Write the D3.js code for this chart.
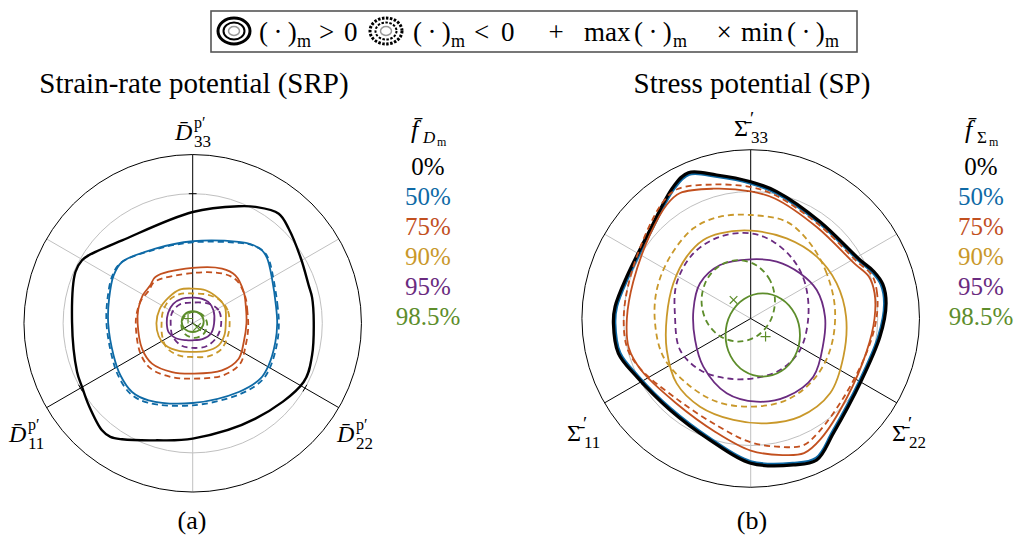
<!DOCTYPE html>
<html><head><meta charset="utf-8">
<script src="https://cdn.jsdelivr.net/npm/d3@7"></script>
<style>
body{margin:0;background:#fff}
svg{display:block}
text{font-family:"Liberation Serif","Times New Roman",serif}
</style>
</head><body>
<svg id="c" width="1015" height="540"></svg>
<script>
// ---------------- DATA ----------------
// Curves are traced points [x, y] in the deviatoric plane, normalised so that the grey circle has radius 1
const levels = ["0%","50%","75%","90%","95%","98.5%"];
const levelColors = ["#000000","#0e6aa6","#c2501f","#c9982a","#6a2b80","#5d8d2b"];

// Strain-rate potential (SRP)
const srp0 = [[0.934,0.01],[0.921,0.2],[0.895,0.293],[0.835,0.5],[0.741,0.73],[0.664,0.846],[0.484,0.898],[0.355,0.903],[0,0.859],[-0.545,0.64],[-0.802,0.525],[-0.854,0.486],[-0.905,0.396],[-0.931,0.01],[-0.892,-0.376],[-0.854,-0.491],[-0.802,-0.633],[-0.7,-0.826],[-0.635,-0.877],[-0.545,-0.895],[-0.288,-0.903],[0,-0.89],[0.484,-0.736],[0.856,-0.453],[0.921,-0.247]];
const srp50Pos = [[0.652,0],[0.643,0.13],[0.612,0.345],[0.575,0.5],[0.535,0.563],[0.45,0.61],[0.355,0.628],[0,0.633],[-0.288,0.576],[-0.545,0.473],[-0.61,0.37],[-0.645,0.19],[-0.652,0],[-0.61,-0.25],[-0.558,-0.401],[-0.468,-0.53],[-0.34,-0.594],[0,-0.615],[0.355,-0.53],[0.522,-0.427],[0.586,-0.324],[0.638,-0.144]];
const srp50Neg = [[0.665,-0.005],[0.656,0.125],[0.624,0.338],[0.587,0.493],[0.546,0.556],[0.459,0.603],[0.362,0.62],[0,0.625],[-0.294,0.568],[-0.556,0.466],[-0.622,0.362],[-0.658,0.183],[-0.665,-0.005],[-0.622,-0.262],[-0.569,-0.416],[-0.477,-0.547],[-0.347,-0.612],[0,-0.633],[0.362,-0.548],[0.532,-0.443],[0.598,-0.338],[0.651,-0.155]];
const srp75Pos = [[0.415,0],[0.41,0.13],[0.394,0.242],[0.329,0.37],[0.226,0.422],[0,0.427],[-0.288,0.358],[-0.327,0.293],[-0.386,0.216],[-0.42,0.11],[-0.425,0],[-0.391,-0.195],[-0.314,-0.311],[-0.159,-0.376],[0,-0.388],[0.226,-0.363],[0.355,-0.273],[0.394,-0.144]];
const srp75Neg = [[0.428,-0.039],[0.422,0.091],[0.406,0.203],[0.339,0.331],[0.233,0.383],[0,0.388],[-0.297,0.319],[-0.337,0.254],[-0.398,0.177],[-0.433,0.071],[-0.438,-0.039],[-0.403,-0.234],[-0.323,-0.35],[-0.164,-0.415],[0,-0.427],[0.233,-0.402],[0.366,-0.312],[0.406,-0.183]];
const srp90Pos = [[0.255,0],[0.25,0.12],[0.2,0.19],[0.1,0.255],[0,0.268],[-0.1,0.26],[-0.185,0.2],[-0.255,0.11],[-0.28,0],[-0.262,-0.1],[-0.211,-0.17],[-0.1,-0.215],[0,-0.221],[0.1,-0.215],[0.2,-0.17],[0.245,-0.09]];
const srp90Neg = [[0.285,0],[0.27,0.1],[0.22,0.17],[0.12,0.22],[0,0.23],[-0.1,0.225],[-0.18,0.18],[-0.23,0.09],[-0.24,0],[-0.235,-0.1],[-0.2,-0.19],[-0.1,-0.25],[0,-0.26],[0.12,-0.255],[0.22,-0.2],[0.27,-0.1]];
const srp95Pos = [[0.165,0],[0.16,0.1],[0.12,0.165],[0.05,0.195],[0,0.198],[-0.08,0.19],[-0.15,0.15],[-0.19,0.08],[-0.2,0],[-0.185,-0.07],[-0.13,-0.115],[-0.05,-0.13],[0,-0.131],[0.08,-0.12],[0.14,-0.08]];
const srp95Neg = [[0.22,0],[0.2,0.1],[0.13,0.15],[0,0.16],[-0.1,0.145],[-0.16,0.08],[-0.17,0],[-0.155,-0.1],[-0.09,-0.17],[0,-0.19],[0.11,-0.175],[0.19,-0.1]];
const srp985Pos = [[0.085,0.013],[0.06,0.07],[0,0.093],[-0.06,0.07],[-0.085,0.013],[-0.06,-0.045],[0,-0.067],[0.06,-0.045]];
const srp985Neg = [[0.112,-0.012],[0.083,0.06],[0.012,0.088],[-0.059,0.06],[-0.088,-0.012],[-0.059,-0.083],[0.012,-0.112],[0.083,-0.083]];

// Stress potential (SP)
const sp0 = [[1.066,0.119],[1.04,0.27],[0.97,0.37],[0.861,0.461],[0.546,0.762],[0.205,0.999],[0,1.077],[-0.268,1.13],[-0.491,1.148],[-0.609,1.038],[-0.793,0.697],[-0.976,0.329],[-1.068,0.093],[-1.081,-0.038],[-1.042,-0.274],[-0.898,-0.458],[-0.635,-0.72],[-0.32,-0.957],[0,-1.14],[0.336,-1.153],[0.52,-1.114],[0.651,-0.904],[0.861,-0.511],[1.018,-0.143]];
const sp50Pos = [[1.051,0.117],[1.025,0.266],[0.956,0.365],[0.849,0.455],[0.538,0.751],[0.202,0.985],[0,1.062],[-0.264,1.114],[-0.484,1.132],[-0.6,1.023],[-0.782,0.687],[-0.962,0.324],[-1.053,0.092],[-1.066,-0.037],[-1.027,-0.27],[-0.885,-0.452],[-0.626,-0.71],[-0.316,-0.944],[0,-1.124],[0.331,-1.137],[0.513,-1.098],[0.642,-0.891],[0.849,-0.504],[1.004,-0.141]];
const sp50Neg = [[1.055,0.118],[1.029,0.267],[0.96,0.366],[0.852,0.456],[0.541,0.754],[0.203,0.989],[0,1.066],[-0.265,1.119],[-0.486,1.137],[-0.603,1.028],[-0.785,0.69],[-0.966,0.326],[-1.057,0.092],[-1.07,-0.038],[-1.032,-0.271],[-0.889,-0.453],[-0.629,-0.713],[-0.317,-0.947],[0,-1.135],[0.333,-1.147],[0.515,-1.108],[0.644,-0.895],[0.852,-0.506],[1.008,-0.142]];
const sp75Pos = [[0.975,0],[0.975,0.2],[0.93,0.33],[0.82,0.43],[0.52,0.72],[0.19,0.945],[0,1.001],[-0.294,1.022],[-0.556,0.988],[-0.661,0.896],[-0.793,0.66],[-0.924,0.293],[-0.975,0],[-0.96,-0.23],[-0.86,-0.41],[-0.59,-0.665],[-0.275,-0.895],[0,-1.04],[0.25,-1.075],[0.42,-1.06],[0.55,-0.95],[0.756,-0.626],[0.913,-0.259]];
const sp75Neg = [[0.99,0],[0.995,0.2],[0.955,0.34],[0.84,0.445],[0.535,0.74],[0.195,0.97],[0,1.035],[-0.3,1.055],[-0.575,1.02],[-0.685,0.925],[-0.82,0.68],[-0.955,0.3],[-1.0,0],[-0.97,-0.24],[-0.865,-0.4],[-0.58,-0.635],[-0.262,-0.845],[0,-0.975],[0.225,-1.01],[0.41,-1.0],[0.53,-0.9],[0.745,-0.6],[0.92,-0.25]];
const sp90Pos = [[0.751,0.014],[0.677,0.277],[0.52,0.487],[0.283,0.631],[0,0.692],[-0.241,0.671],[-0.373,0.618],[-0.504,0.487],[-0.609,0.277],[-0.661,0.014],[-0.661,-0.248],[-0.583,-0.511],[-0.399,-0.694],[-0.136,-0.799],[0.126,-0.825],[0.388,-0.773],[0.625,-0.589],[0.73,-0.3]];
const sp90Neg = [[0.664,0.067],[0.598,0.356],[0.467,0.592],[0.283,0.762],[0,0.815],[-0.241,0.802],[-0.451,0.71],[-0.635,0.487],[-0.74,0.224],[-0.753,-0.038],[-0.688,-0.301],[-0.504,-0.511],[-0.268,-0.655],[0.021,-0.694],[0.283,-0.642],[0.493,-0.484],[0.625,-0.248]];
const sp95Pos = [[0.585,0.014],[0.52,0.224],[0.388,0.356],[0.205,0.448],[0,0.466],[-0.241,0.421],[-0.399,0.277],[-0.451,0.067],[-0.438,-0.169],[-0.373,-0.379],[-0.189,-0.589],[0.047,-0.655],[0.283,-0.615],[0.493,-0.458],[0.572,-0.196]];
const sp95Neg = [[0.454,0.014],[0.428,0.277],[0.336,0.461],[0.178,0.605],[0,0.671],[-0.241,0.644],[-0.451,0.513],[-0.583,0.277],[-0.596,0.014],[-0.556,-0.248],[-0.399,-0.406],[-0.189,-0.471],[0.021,-0.471],[0.231,-0.406],[0.388,-0.248]];
const sp985Pos = [[0.388,-0.13],[0.349,0.034],[0.242,0.154],[0.095,0.198],[-0.052,0.154],[-0.159,0.034],[-0.198,-0.13],[-0.159,-0.294],[-0.052,-0.414],[0.095,-0.458],[0.242,-0.414],[0.349,-0.294]];
const sp985Neg = [[0.191,0.139],[0.153,0.3],[0.047,0.417],[-0.098,0.46],[-0.242,0.417],[-0.348,0.3],[-0.387,0.139],[-0.348,-0.022],[-0.242,-0.139],[-0.098,-0.182],[0.047,-0.139],[0.153,-0.022]];

// max (+) / min (x) markers
const srpMax = [[-0.036,0.037]];
const srpMin = [[0.033,-0.029]];
const spMax = [[0.117,-0.142]];
const spMin = [[-0.135,0.146]];

// axis directions (deg, counter-clockwise from +x)
const mainAxes = [90,210,330];
const auxAxes = [270,30,150];

// ---------------- DRAWING ----------------
const svg = d3.select("#c");
const FONT = '"Liberation Serif","Times New Roman",serif';
const deg = Math.PI/180;

function drawPlot(cfg) {
  const x = d3.scaleLinear().domain([-1,1]).range([-cfg.unit,cfg.unit]);
  const y = d3.scaleLinear().domain([-1,1]).range([cfg.unit,-cfg.unit]);
  const R = v => x(v) - x(0);
  const g = svg.append("g").attr("transform",`translate(${cfg.cx},${cfg.cy})`);
  g.append("circle").attr("r",R(1)).attr("fill","none").attr("stroke","#c0c0c0").attr("stroke-width",1);
  auxAxes.forEach(a=>{
    g.append("line").attr("x1",x(0)).attr("y1",y(0))
      .attr("x2",x(cfg.rMax*Math.cos(a*deg))).attr("y2",y(cfg.rMax*Math.sin(a*deg)))
      .attr("stroke","#c0c0c0").attr("stroke-width",1);
  });
  mainAxes.forEach(a=>{
    const c = Math.cos(a*deg), s = Math.sin(a*deg);
    g.append("line").attr("x1",x(0)).attr("y1",y(0))
      .attr("x2",x(cfg.rMax*c)).attr("y2",y(cfg.rMax*s))
      .attr("stroke","#000").attr("stroke-width",1);
    const t = 0.03;
    g.append("line").attr("x1",x(c - t*s)).attr("y1",y(s + t*c)).attr("x2",x(c + t*s)).attr("y2",y(s - t*c))
      .attr("stroke","#000").attr("stroke-width",1);
  });
  g.append("circle").attr("r",R(cfg.rMax)).attr("fill","none").attr("stroke","#000").attr("stroke-width",1);

  const line = d3.line().x(d=>x(d[0])).y(d=>y(d[1])).curve(d3.curveCatmullRomClosed.alpha(0.5));
  cfg.series.forEach(s=>{
    g.append("path").attr("d",line(s.values)).attr("fill","none")
      .attr("stroke",levelColors[s.level]).attr("stroke-width",s.w)
      .attr("stroke-dasharray",s.neg?"6,4":null).attr("stroke-linejoin","round");
  });
  const mk = (list, type) => list.forEach(([px,py])=>{
    const X = x(px), Y = y(py), s = 5, q = 3.8;
    const d = type==="max"
      ? `M${X-s},${Y}H${X+s}M${X},${Y-s}V${Y+s}`
      : `M${X-q},${Y-q}L${X+q},${Y+q}M${X-q},${Y+q}L${X+q},${Y-q}`;
    g.append("path").attr("d",d).attr("stroke",levelColors[5]).attr("stroke-width",1.2).attr("fill","none");
  });
  mk(cfg.max,"max"); mk(cfg.min,"min");
}

drawPlot({cx:192.7, cy:323.3, unit:129.6, rMax:1.302, max:srpMax, min:srpMin, series:[
  {level:0,values:srp0,neg:false,w:2.4},
  {level:1,values:srp50Neg,neg:true,w:1.8},{level:1,values:srp50Pos,neg:false,w:1.8},
  {level:2,values:srp75Neg,neg:true,w:1.8},{level:2,values:srp75Pos,neg:false,w:1.8},
  {level:3,values:srp90Neg,neg:true,w:1.8},{level:3,values:srp90Pos,neg:false,w:1.8},
  {level:4,values:srp95Neg,neg:true,w:1.8},{level:4,values:srp95Pos,neg:false,w:1.8},
  {level:5,values:srp985Neg,neg:true,w:1.8},{level:5,values:srp985Pos,neg:false,w:1.8}
]});
drawPlot({cx:750.7, cy:318.5, unit:127, rMax:1.329, max:spMax, min:spMin, series:[
  {level:1,values:sp50Pos,neg:false,w:2.2},{level:1,values:sp50Neg,neg:true,w:1.6},
  {level:0,values:sp0,neg:false,w:3.2},
  {level:2,values:sp75Neg,neg:true,w:1.8},{level:2,values:sp75Pos,neg:false,w:1.8},
  {level:3,values:sp90Neg,neg:true,w:1.8},{level:3,values:sp90Pos,neg:false,w:1.8},
  {level:4,values:sp95Neg,neg:true,w:1.8},{level:4,values:sp95Pos,neg:false,w:1.8},
  {level:5,values:sp985Neg,neg:true,w:1.8},{level:5,values:sp985Pos,neg:false,w:1.8}
]});

// ---------------- TEXT ----------------
function txt(x,y,s,size,o={}) {
  return svg.append("text").attr("x",x).attr("y",y).attr("font-size",size)
    .attr("font-family",FONT)
    .attr("font-style",o.italic?"italic":null).attr("text-anchor",o.anchor||"start")
    .attr("fill",o.fill||"#000").text(s);
}
txt(194,93,"Strain-rate potential (SRP)",29,{anchor:"middle"});
txt(752,93,"Stress potential (SP)",29,{anchor:"middle"});
txt(192,529,"(a)",26,{anchor:"middle"});
txt(752,529,"(b)",26,{anchor:"middle"});

function dLabel(x,y,sub){
  txt(x,y,"D\u0304",24,{italic:true});
  txt(x+19,y-12,"p\u2032",16);
  txt(x+19,y+7,sub,17);
}
dLabel(175,140,"33"); dLabel(9,442,"11"); dLabel(337,442,"22");
function sLabel(x,y,sub){
  txt(x,y,"\u03A3\u0304",24);
  txt(x+16,y-11,"\u2032",19);
  txt(x+17,y+7,sub,17);
}
sLabel(734,136,"33"); sLabel(567,441,"11"); sLabel(892,441,"22");

txt(411,138,"f\u0304",26,{italic:true}); txt(423,143,"D",17,{italic:true}); txt(437,146,"m",12);
txt(965,138,"f\u0304",26,{italic:true}); txt(977,143,"\u03A3",17); txt(989,146,"m",12);
levels.forEach((l,i)=>{
  txt(428,175+30*i,l,25,{anchor:"middle",fill:levelColors[i]});
  txt(981,175+30*i,l,25,{anchor:"middle",fill:levelColors[i]});
});

// top legend
svg.append("rect").attr("x",211).attr("y",11).attr("width",646).attr("height",41)
  .attr("fill","#fff").attr("stroke","#555").attr("stroke-width",1.6);
function icon(cx,dash){
  [[16,13,3,"#000"],[10.5,8.5,2,"#000"],[5.5,4.5,1.5,"#999"]].forEach(([rx,ry,w,c],i)=>{
    svg.append("ellipse").attr("cx",cx).attr("cy",31).attr("rx",rx).attr("ry",ry)
      .attr("fill","none").attr("stroke",c).attr("stroke-width",w)
      .attr("stroke-dasharray",dash&&i<2?"2.5,1.5":null);
  });
}
icon(234,false); icon(386,true);
function paren(x){ txt(x,41,"(\u2009\u00B7\u2009)",27); }
function subm(x){ txt(x,47,"m",18); }
paren(259); subm(297); txt(319,41,">",27); txt(344,41,"0",27);
paren(413); subm(451); txt(474,41,"<",27); txt(501,41,"0",27);
txt(556,41,"+",27,{anchor:"middle"});
txt(584,41,"max",27); paren(634); subm(673);
txt(724,41,"\u00D7",27,{anchor:"middle"});
txt(741,41,"min",27); paren(787); subm(825);
</script>
</body></html>
